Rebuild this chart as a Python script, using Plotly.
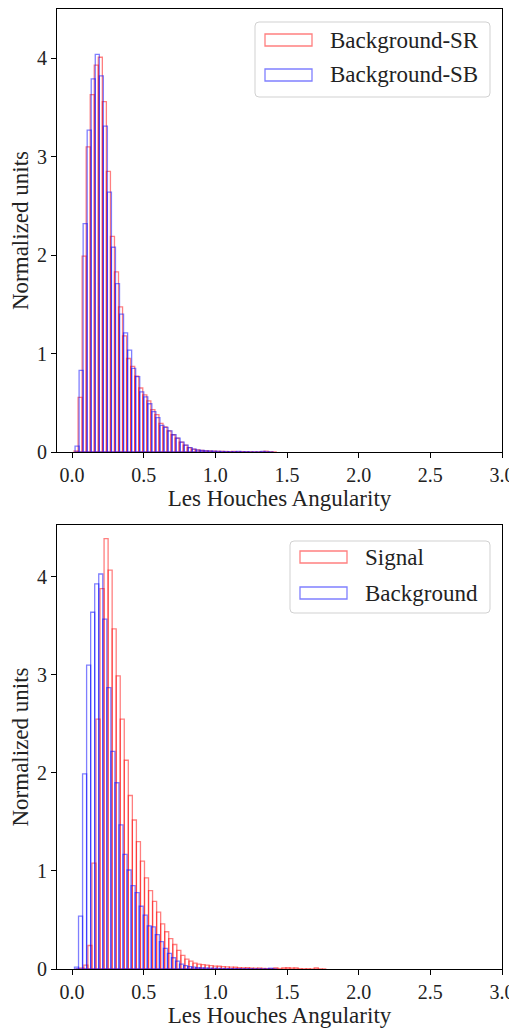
import plotly.graph_objects as go

# ---------------- data ----------------
BIN_W = 0.0282

# Top panel: Background-SR (red) and Background-SB (blue)
top_sr_start = 0.014
top_sr = [0.01, 0.555, 1.99, 3.10, 3.63, 3.93, 4.01, 3.56, 2.85, 2.19,
          1.83, 1.475, 1.18, 0.95, 0.87, 0.77, 0.65, 0.58, 0.52, 0.43,
          0.38, 0.29, 0.255, 0.215, 0.175, 0.14, 0.10, 0.07, 0.045, 0.03,
          0.022, 0.016, 0.012, 0.010, 0.008, 0.007, 0.006, 0.005, 0.004, 0.006,
          0.003, 0.004, 0.002, 0.002, 0.001, 0.001, 0.002, 0.008, 0.001, 0.001]
top_sb_start = 0.021
top_sb = [0.06, 0.83, 2.32, 3.27, 3.79, 4.04, 3.82, 3.31, 2.64, 2.08,
          1.71, 1.40, 1.21, 1.035, 0.85, 0.765, 0.61, 0.56, 0.49, 0.41,
          0.35, 0.27, 0.25, 0.215, 0.175, 0.14, 0.10, 0.07, 0.045, 0.03,
          0.02, 0.015, 0.012, 0.010, 0.008, 0.006, 0.005, 0.004, 0.003, 0.003,
          0.006, 0.002, 0.003, 0.001, 0.001, 0.001, 0.006, 0.002, 0.001]

# Bottom panel: Signal (red) and Background (blue)
bot_sig_start = 0.026
bot_sig = [0.0, 0.01, 0.04, 0.24, 1.08, 2.55, 3.88, 4.39, 4.07, 3.47,
           2.99, 2.55, 2.13, 1.77, 1.52, 1.30, 1.10, 0.93, 0.80, 0.69,
           0.58, 0.46, 0.38, 0.31, 0.25, 0.19, 0.14, 0.10, 0.08, 0.06,
           0.05, 0.045, 0.04, 0.035, 0.03, 0.028, 0.025, 0.022, 0.02, 0.018,
           0.015, 0.012, 0.014, 0.01, 0.008, 0.01, 0.006, 0.004, 0.003, 0.012,
           0.005, 0.012, 0.014, 0.01, 0.012, 0.004, 0.002, 0.003, 0.001, 0.012,
           0.002, 0.0]
bot_bkg_start = 0.017
bot_bkg = [0.02, 0.54, 1.99, 3.10, 3.64, 3.93, 4.03, 3.57, 2.87, 2.22,
           1.90, 1.47, 1.17, 1.01, 0.85, 0.78, 0.64, 0.55, 0.44, 0.43,
           0.35, 0.28, 0.21, 0.16, 0.115, 0.08, 0.05, 0.035, 0.025, 0.02,
           0.015, 0.012, 0.010, 0.008, 0.007, 0.006, 0.005, 0.004, 0.004, 0.003,
           0.003, 0.002, 0.002, 0.002, 0.001, 0.001, 0.001, 0.001, 0.008, 0.001]

x_ticks = [0.0, 0.5, 1.0, 1.5, 2.0, 2.5, 3.0]
x_tick_text = ["0.0", "0.5", "1.0", "1.5", "2.0", "2.5", "3.0"]
y_ticks = [0, 1, 2, 3, 4]
y_tick_text = ["0", "1", "2", "3", "4"]

labels_top = ["Background-SR", "Background-SB"]
labels_bot = ["Signal", "Background"]
x_title = "Les Houches Angularity"
y_title = "Normalized units"

RED = "rgba(255,0,0,0.5)"
BLUE = "rgba(0,0,255,0.5)"
FONT = "Liberation Serif"
TXT = "#222"


def centers(start, n):
    return [start + BIN_W * (i + 0.5) for i in range(n)]


fig = go.Figure()


def add_hist(vals, start, color, xa, ya, name):
    fig.add_trace(go.Bar(
        x=centers(start, len(vals)), y=vals, width=BIN_W,
        marker=dict(color="rgba(0,0,0,0)", line=dict(color=color, width=1.3)),
        xaxis=xa, yaxis=ya, name=name, showlegend=False,
    ))


add_hist(top_sr, top_sr_start, RED, "x", "y", labels_top[0])
add_hist(top_sb, top_sb_start, BLUE, "x", "y", labels_top[1])
add_hist(bot_sig, bot_sig_start, RED, "x2", "y2", labels_bot[0])
add_hist(bot_bkg, bot_bkg_start, BLUE, "x2", "y2", labels_bot[1])

# The page body adds an 8 px margin, so the figure is shrunk and shifted.
OFF = 8
W, H = 517 - OFF, 1028 - OFF
ML, MR, MT, MB = 57 - OFF, 517 - 502, 1, 1028 - 969
PW = W - ML - MR
PH = H - MT - MB


def px(xr):  # reference pixel -> paper
    return (xr - OFF - ML) / PW


def py(yr):
    return (H - MB - (yr - OFF)) / PH


axis_common = dict(
    showline=True, linecolor="black", linewidth=1.2, mirror=True,
    ticks="outside", ticklen=5, tickwidth=1.2, tickcolor="black",
    showgrid=False, zeroline=False, automargin=False,
    tickfont=dict(family=FONT, size=20, color=TXT),
)

top_dom = [py(452), py(9)]
bot_dom = [0.0, py(525)]
title_font = dict(family=FONT, size=23, color=TXT)

fig.update_layout(
    width=W, height=H,
    margin=dict(l=ML, r=MR, t=MT, b=MB),
    paper_bgcolor="white", plot_bgcolor="white",
    barmode="overlay",
    font=dict(family=FONT, color=TXT),
    xaxis=dict(domain=[0, 1], anchor="y", range=[-0.105, 3.0],
               tickvals=x_ticks, ticktext=x_tick_text,
               title=dict(text=x_title, font=title_font, standoff=1),
               **axis_common),
    yaxis=dict(domain=top_dom, anchor="x", range=[0, 4.5],
               tickvals=y_ticks, ticktext=y_tick_text,
               title=dict(text=y_title, font=title_font, standoff=4),
               **axis_common),
    xaxis2=dict(domain=[0, 1], anchor="y2", range=[-0.105, 3.0],
                tickvals=x_ticks, ticktext=x_tick_text,
                title=dict(text=x_title, font=title_font, standoff=1),
                **axis_common),
    yaxis2=dict(domain=bot_dom, anchor="x2", range=[0, 4.53],
                tickvals=y_ticks, ticktext=y_tick_text,
                title=dict(text=y_title, font=title_font, standoff=4),
                **axis_common),
)


def rounded_box(x0, y0, x1, y1, r=4):
    rx, ry = r / PW, r / PH
    X0, X1 = px(x0), px(x1)
    Yt, Yb = py(y0), py(y1)
    path = (f"M {X0+rx},{Yt} L {X1-rx},{Yt} Q {X1},{Yt} {X1},{Yt-ry} "
            f"L {X1},{Yb+ry} Q {X1},{Yb} {X1-rx},{Yb} "
            f"L {X0+rx},{Yb} Q {X0},{Yb} {X0},{Yb+ry} "
            f"L {X0},{Yt-ry} Q {X0},{Yt} {X0+rx},{Yt} Z")
    fig.add_shape(type="path", path=path, xref="paper", yref="paper",
                  line=dict(color="rgba(204,204,204,0.9)", width=1),
                  fillcolor="rgba(255,255,255,0.8)", layer="above")


def legend(box, entries):
    x0, y0, x1, y1 = box
    rounded_box(x0, y0, x1, y1)
    for (label, color, yc) in entries:
        fig.add_shape(type="rect", xref="paper", yref="paper",
                      x0=px(x0 + 10), x1=px(x0 + 57), y0=py(yc + 6), y1=py(yc - 6),
                      line=dict(color=color, width=1.3), fillcolor="rgba(0,0,0,0)",
                      layer="above")
        fig.add_annotation(xref="paper", yref="paper", x=px(x0 + 73), y=py(yc),
                           text=label, showarrow=False, xanchor="left", yanchor="middle",
                           font=dict(family=FONT, size=23, color=TXT))


legend((255, 22, 490, 97), [(labels_top[0], RED, 40), (labels_top[1], BLUE, 75)])
legend((290, 541, 490, 613), [(labels_bot[0], RED, 557), (labels_bot[1], BLUE, 593)])

fig.write_html("out.html")
